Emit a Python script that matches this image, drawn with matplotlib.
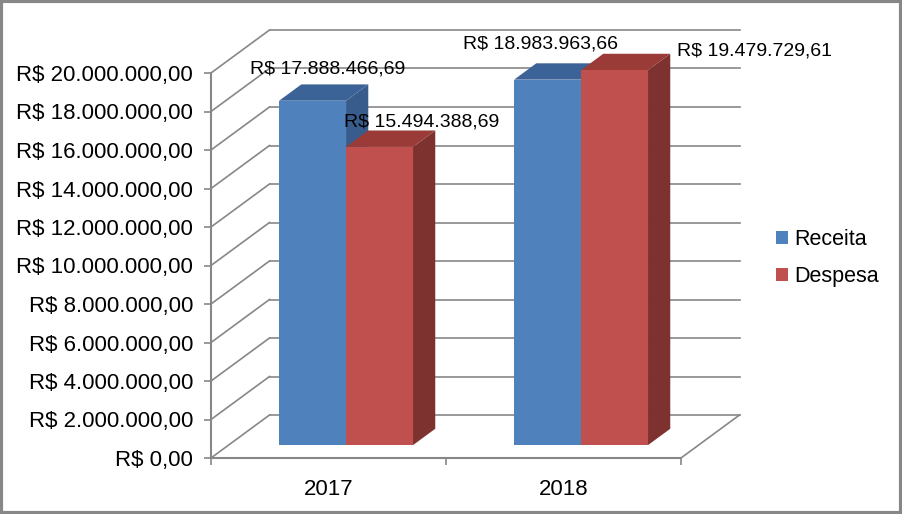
import matplotlib
matplotlib.use('Agg')
import matplotlib.pyplot as plt
from matplotlib.patches import Polygon, Rectangle, Patch
from matplotlib.ticker import FuncFormatter, MultipleLocator
import numpy as np

plt.rcParams['font.family'] = ['Liberation Sans', 'DejaVu Sans']

# dados
anos = ['2017', '2018']
series = ['Receita', 'Despesa']
receita = [17888466.69, 18983963.66]
despesa = [15494388.69, 19479729.61]
rotulos = [['R$ 17.888.466,69', 'R$ 18.983.963,66'],
           ['R$ 15.494.388,69', 'R$ 19.479.729,61']]

cores_frente = ['#4F81BD', '#C0504D']
cores_topo = ['#3C6398', '#9A3B38']
cores_lado = ['#385C8B', '#7E3230']
cor_grade = '#878787'


def brl(v, pos=None):
    s = '{:,.2f}'.format(v).replace(',', 'X').replace('.', ',').replace('X', '.')
    return 'R$ ' + s


W, H = 902, 514
fig = plt.figure(figsize=(W / 100, H / 100), dpi=100)
# plano frontal do grafico
ax = fig.add_axes([211 / W, 1 - 458 / H, 470 / W, 385 / H])
ax.set_xlim(0, 2)
ax.set_ylim(0, 20e6)
ax.patch.set_alpha(0)

# profundidade (em unidades de dados)
DX = 58.5 / 235
DY = 43 / 385 * 20e6


def proj(x, y, t):
    return (x + t * DX, y + t * DY)


# parede de fundo e parede lateral
for v in np.arange(0, 20e6 + 1, 2e6):
    ax.plot([0, DX], [v, v + DY], color=cor_grade, lw=1.2, clip_on=False, zorder=1)
    ax.plot([DX, 2 + DX], [v + DY, v + DY], color=cor_grade, lw=1.2, clip_on=False, zorder=1)
# chao
ax.plot([2, 2 + DX], [0, DY], color=cor_grade, lw=1.2, clip_on=False, zorder=1)

# barras
w = 0.285
t0, t1 = 0.3, 0.68
valores = [receita, despesa]
offsets = [[(4, 24), (-18, 27)], [(31, 17), (129, 11)]]
for i in range(len(anos)):
    for j in range(len(series)):
        v = valores[j][i]
        x0 = i + (1 - 2 * w) / 2 + j * w
        x1 = x0 + w
        lado = [proj(x1, 0, t0), proj(x1, 0, t1), proj(x1, v, t1), proj(x1, v, t0)]
        topo = [proj(x0, v, t0), proj(x1, v, t0), proj(x1, v, t1), proj(x0, v, t1)]
        frente = [proj(x0, 0, t0), proj(x1, 0, t0), proj(x1, v, t0), proj(x0, v, t0)]
        for pts, c in [(lado, cores_lado[j]), (topo, cores_topo[j]), (frente, cores_frente[j])]:
            ax.add_patch(Polygon(pts, closed=True, facecolor=c, edgecolor='none',
                                 clip_on=False, zorder=3))
        cx, cy = proj((x0 + x1) / 2, v, (t0 + t1) / 2)
        dx, dy = offsets[j][i]
        ax.annotate(rotulos[j][i], (cx, cy), xytext=(dx, dy), textcoords='offset pixels',
                    ha='center', va='center', fontsize=14, zorder=5,
                    annotation_clip=False)

# eixos
for s in ['top', 'right']:
    ax.spines[s].set_visible(False)
for s in ['left', 'bottom']:
    ax.spines[s].set_color(cor_grade)
    ax.spines[s].set_linewidth(1.5)
ax.yaxis.set_major_locator(MultipleLocator(2e6))
ax.yaxis.set_major_formatter(FuncFormatter(brl))
ax.tick_params(axis='y', direction='out', length=5, width=1.2, color=cor_grade,
               labelsize=16, pad=8)
ax.set_xticks([0, 1, 2])
ax.set_xticklabels([])
ax.set_xticks([0.5, 1.5], minor=True)
ax.set_xticklabels(anos, minor=True)
ax.tick_params(axis='x', which='major', direction='out', length=5, width=1.2, color=cor_grade)
ax.tick_params(axis='x', which='minor', length=0, labelsize=16, pad=15)

# legenda
handles = [Patch(facecolor=cores_frente[k], edgecolor='none', label=series[k]) for k in range(2)]
fig.legend(handles=handles, loc='center left', bbox_to_anchor=(772 / W, 1 - 258 / H),
           frameon=False, fontsize=15.5, handlelength=0.55, handleheight=0.55,
           handletextpad=0.3, labelspacing=0.75, borderaxespad=0, borderpad=0.2)

# borda
fig.patches.append(Rectangle((0.0015, 0.0025), 0.997, 0.995, transform=fig.transFigure,
                             fill=False, edgecolor='#878787', lw=3))

fig.savefig('out.png', dpi=100)
